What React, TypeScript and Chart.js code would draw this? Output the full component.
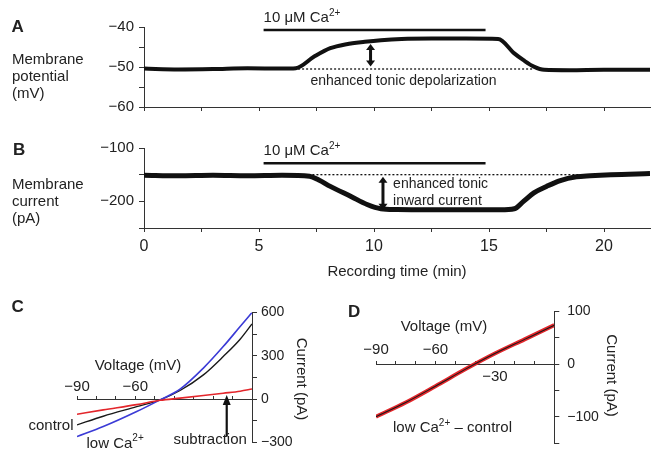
import React, { useEffect, useRef } from "react";
import { Chart, registerables } from "chart.js";

Chart.register(...registerables);

const W = 651;
const H = 452;
const FONT = "'Liberation Sans', Arial, Helvetica, sans-serif";
const INK = "#222222";
const AXIS = "#333333";
const TRACE = "#111111";
const BLUE = "#3b3bd6";
const RED = "#e3262b";

// ---------- Panel A: membrane potential (mV) vs recording time (min) ----------
const timeA = [0, 1.5, 3, 4.5, 6, 6.6, 7.4, 8.1, 8.8, 9.6, 10.3, 11.2, 12.5, 14, 15.4, 16.1, 16.5, 16.95, 17.4, 18.5, 20, 22];
const potentialA = [-50.4, -50.6, -50.5, -50.3, -50.4, -50.3, -47.4, -45.3, -44.3, -43.7, -43.3, -43.0, -42.9, -42.9, -43.0, -46.6, -48.3, -49.9, -50.7, -50.8, -50.7, -50.7];

// ---------- Panel B: membrane current (pA) vs recording time (min) ----------
const timeB = [0, 1.5, 3, 4.5, 6, 7.2, 7.6, 8.1, 9.0, 9.7, 10.3, 11, 12.5, 14, 15.5, 16.1, 16.5, 16.95, 17.5, 18.1, 18.8, 19.4, 20.3, 22];
const currentB = [-151, -152, -151, -152, -151, -153, -160, -172, -191, -206, -214, -215.5, -216, -216, -216, -214, -200, -184, -172, -161, -154, -152, -150, -148];

// 10 µM Ca2+ application bar, baselines and arrows (data units)
const caBarTime = [5.2, 14.85];
const caBarA = -40.75;
const caBarB = -128.7;
const caLabelA = -38.75;
const caLabelB = -113.1;
const baselineSpanA = [6.7, 16.9];
const baselineA = -50.5;
const baselineSpanB = [6.8, 22];
const baselineB = -150;
const arrowTimeA = 9.85;
const arrowA = [-44.25, -49.9];
const arrowTimeB = 10.39;
const arrowB = [-154, -216];

// ---------- Panel C: I–V curves ----------
const voltageC = [-90, -76.5, -59.3, -47.3, -37, -25, -14.8, -6.1, 0];
const controlC = [-178, -118, -52, -5, 60, 168, 295, 415, 521];
const lowCaC = [-259, -190, -86, -5, 69, 215, 364, 503, 600];
const subtractionC = [-104, -74, -38, -8, 7, 25, 41, 55, 70];
const subtractionArrowV = -13;
const subtractionArrowI = [-259, 28];

// ---------- Panel D: low Ca2+ – control ----------
const voltageD = [-90, -75, -60, -45, -30, -15, 0];
const diffD = [-100, -73, -42, -10, 20, 47, 74];

const fmt = (v: number) => (v < 0 ? "\u2212" + Math.abs(v) : String(v));
const series = (xs: number[], ys: number[]) => xs.map((x, i) => ({ x, y: ys[i] }));
const flat = (xs: number[], y: number) => xs.map((x) => ({ x, y }));

type Seg = { t: string; sup?: boolean };

function rich(
  ctx: CanvasRenderingContext2D,
  segs: Seg[],
  x: number,
  y: number,
  size: number,
  align: "left" | "center" | "right",
  weight = "normal"
) {
  const main = `${weight} ${size}px ${FONT}`;
  const small = `${weight} ${Math.round(size * 0.64)}px ${FONT}`;
  const widths = segs.map((s) => {
    ctx.font = s.sup ? small : main;
    return ctx.measureText(s.t).width;
  });
  const total = widths.reduce((p, q) => p + q, 0);
  let cx = align === "left" ? x : align === "center" ? x - total / 2 : x - total;
  ctx.save();
  ctx.fillStyle = INK;
  ctx.textAlign = "left";
  ctx.textBaseline = "alphabetic";
  segs.forEach((s, i) => {
    ctx.font = s.sup ? small : main;
    ctx.fillText(s.t, cx, s.sup ? y - size * 0.42 : y);
    cx += widths[i];
  });
  ctx.restore();
}

function vText(ctx: CanvasRenderingContext2D, s: string, x: number, y: number, size: number) {
  ctx.save();
  ctx.translate(x, y);
  ctx.rotate(Math.PI / 2);
  ctx.font = `${size}px ${FONT}`;
  ctx.fillStyle = INK;
  ctx.textAlign = "center";
  ctx.textBaseline = "middle";
  ctx.fillText(s, 0, 0);
  ctx.restore();
}

function head(ctx: CanvasRenderingContext2D, x: number, y: number, dir: number, w: number, h: number) {
  ctx.beginPath();
  ctx.moveTo(x, y);
  ctx.lineTo(x - w / 2, y - dir * h);
  ctx.lineTo(x + w / 2, y - dir * h);
  ctx.closePath();
  ctx.fill();
}

function dblArrow(ctx: CanvasRenderingContext2D, x: number, yTop: number, yBot: number) {
  const hw = 9;
  const hh = 6;
  ctx.save();
  ctx.strokeStyle = TRACE;
  ctx.fillStyle = TRACE;
  ctx.lineWidth = 3;
  ctx.beginPath();
  ctx.moveTo(x, yTop + hh - 1);
  ctx.lineTo(x, yBot - hh + 1);
  ctx.stroke();
  head(ctx, x, yTop, -1, hw, hh);
  head(ctx, x, yBot, 1, hw, hh);
  ctx.restore();
}

function upArrow(ctx: CanvasRenderingContext2D, x: number, yTip: number, yBase: number) {
  ctx.save();
  ctx.strokeStyle = TRACE;
  ctx.fillStyle = TRACE;
  ctx.lineWidth = 2.2;
  ctx.beginPath();
  ctx.moveTo(x, yBase);
  ctx.lineTo(x, yTip + 8);
  ctx.stroke();
  head(ctx, x, yTip, -1, 8, 10);
  ctx.restore();
}

function sideLabel(ctx: CanvasRenderingContext2D, lines: string[], x: number, y0: number, step: number) {
  lines.forEach((l, i) => rich(ctx, [{ t: l }], x, y0 + i * step, 15, "left"));
}

const fixH = (h: number) => (s: any) => {
  s.height = h;
  s.paddingLeft = 0;
  s.paddingRight = 0;
};
const fixW = (w: number) => (s: any) => {
  s.width = w;
  s.paddingTop = 0;
  s.paddingBottom = 0;
};

function baseOptions(pad: any, scales: any) {
  return {
    animation: false,
    responsive: false,
    maintainAspectRatio: false,
    devicePixelRatio: 1,
    events: [],
    layout: { padding: pad },
    plugins: { legend: { display: false }, tooltip: { enabled: false }, title: { display: false } },
    elements: { point: { radius: 0 }, line: { borderJoinStyle: "round", borderCapStyle: "butt" } },
    scales,
  };
}

function timeAxis(showLabels: boolean, height: number) {
  return {
    type: "linear",
    position: "bottom",
    min: 0,
    max: 22,
    afterFit: fixH(height),
    border: { color: AXIS, width: 1 },
    grid: { drawOnChartArea: false, drawTicks: true, tickLength: 4, tickColor: AXIS, tickWidth: 1 },
    ticks: {
      stepSize: 2.5,
      includeBounds: false,
      autoSkip: false,
      maxRotation: 0,
      padding: 5,
      color: INK,
      font: { family: FONT, size: 16 },
      callback: (v: number) => (showLabels && v % 5 === 0 ? String(v) : ""),
    },
  };
}

function leftAxis(min: number, max: number, step: number, labelEvery: number, width: number) {
  return {
    type: "linear",
    position: "left",
    min,
    max,
    afterFit: fixW(width),
    border: { color: AXIS, width: 1 },
    grid: { drawOnChartArea: false, drawTicks: true, tickLength: 5, tickColor: AXIS },
    ticks: {
      stepSize: step,
      autoSkip: false,
      padding: 5,
      color: INK,
      font: { family: FONT, size: 15 },
      callback: (v: number) => (v % labelEvery === 0 ? fmt(v) : ""),
    },
  };
}

function voltageAxis(labels: number[], pad: number) {
  return {
    type: "linear",
    position: { y: 0 },
    min: -90,
    max: 0,
    border: { color: AXIS, width: 1 },
    grid: { drawOnChartArea: false, drawTicks: true, tickLength: -4, tickColor: AXIS },
    ticks: {
      stepSize: 10,
      autoSkip: false,
      maxRotation: 0,
      padding: pad,
      color: INK,
      font: { family: FONT, size: 15 },
      callback: (v: number) => (labels.indexOf(v) >= 0 ? fmt(v) : ""),
    },
  };
}

function rightAxis(min: number, max: number, step: number, labels: number[], pad: number, width: number) {
  return {
    type: "linear",
    position: "right",
    min,
    max,
    afterFit: fixW(width),
    border: { color: AXIS, width: 1 },
    grid: { drawOnChartArea: false, drawTicks: true, tickLength: 5, tickColor: AXIS },
    ticks: {
      stepSize: step,
      autoSkip: false,
      padding: pad,
      color: INK,
      font: { family: FONT, size: 14 },
      callback: (v: number) => (labels.indexOf(v) >= 0 ? fmt(v) : ""),
    },
  };
}

function configA(): any {
  return {
    type: "line",
    data: {
      datasets: [
        { data: series(timeA, potentialA), borderColor: TRACE, borderWidth: 4, pointRadius: 0, cubicInterpolationMode: "monotone" },
        { data: flat(caBarTime, caBarA), borderColor: TRACE, borderWidth: 2.5, pointRadius: 0 },
        { data: flat(baselineSpanA, baselineA), borderColor: TRACE, borderWidth: 1.3, borderDash: [2, 2], pointRadius: 0 },
      ],
    },
    options: baseOptions({ left: 0, right: 1, top: 27, bottom: H - 107 }, {
      x: timeAxis(false, 0),
      y: leftAxis(-60, -40, 5, 10, 144),
    }),
    plugins: [
      {
        id: "annoA",
        afterDraw(chart: any) {
          const { ctx } = chart;
          const x = chart.scales.x;
          const y = chart.scales.y;
          rich(ctx, [{ t: "A" }], 11.5, 31.5, 17, "left", "bold");
          sideLabel(ctx, ["Membrane", "potential", "(mV)"], 12, 63.5, 17);
          rich(ctx, [{ t: "10 \u03bcM Ca" }, { t: "2+", sup: true }], x.getPixelForValue(caBarTime[0]), y.getPixelForValue(caLabelA), 15, "left");
          dblArrow(ctx, x.getPixelForValue(arrowTimeA), y.getPixelForValue(arrowA[0]), y.getPixelForValue(arrowA[1]));
          rich(ctx, [{ t: "enhanced tonic depolarization" }], x.getPixelForValue(11.28), y.getPixelForValue(-54.4), 14, "center");
        },
      },
    ],
  };
}

function configB(): any {
  return {
    type: "line",
    data: {
      datasets: [
        { data: series(timeB, currentB), borderColor: TRACE, borderWidth: 5, pointRadius: 0, cubicInterpolationMode: "monotone" },
        { data: flat(caBarTime, caBarB), borderColor: TRACE, borderWidth: 2.5, pointRadius: 0 },
        { data: flat(baselineSpanB, baselineB), borderColor: TRACE, borderWidth: 1.3, borderDash: [2, 2], pointRadius: 0 },
      ],
    },
    options: baseOptions({ left: 0, right: 1, top: 148, bottom: H - 228 - 36 }, {
      x: timeAxis(true, 36),
      y: leftAxis(-250, -100, 50, 100, 144),
    }),
    plugins: [
      {
        id: "annoB",
        afterDraw(chart: any) {
          const { ctx } = chart;
          const x = chart.scales.x;
          const y = chart.scales.y;
          rich(ctx, [{ t: "B" }], 13, 155, 17, "left", "bold");
          sideLabel(ctx, ["Membrane", "current", "(pA)"], 12, 188.5, 17.3);
          rich(ctx, [{ t: "10 \u03bcM Ca" }, { t: "2+", sup: true }], x.getPixelForValue(caBarTime[0]), y.getPixelForValue(caLabelB), 15, "left");
          dblArrow(ctx, x.getPixelForValue(arrowTimeB), y.getPixelForValue(arrowB[0]), y.getPixelForValue(arrowB[1]));
          rich(ctx, [{ t: "enhanced tonic" }], x.getPixelForValue(10.83), y.getPixelForValue(-175.6), 14, "left");
          rich(ctx, [{ t: "inward current" }], x.getPixelForValue(10.83), y.getPixelForValue(-206.9), 14, "left");
          rich(ctx, [{ t: "Recording time (min)" }], (x.left + x.right) / 2, 276, 15, "center");
        },
      },
    ],
  };
}

function configC(): any {
  return {
    type: "line",
    data: {
      datasets: [
        { data: series(voltageC, subtractionC), borderColor: RED, borderWidth: 1.6, pointRadius: 0, cubicInterpolationMode: "monotone" },
        { data: series(voltageC, lowCaC), borderColor: BLUE, borderWidth: 1.6, pointRadius: 0, cubicInterpolationMode: "monotone" },
        { data: series(voltageC, controlC), borderColor: "#1a1a1a", borderWidth: 1.4, pointRadius: 0, cubicInterpolationMode: "monotone" },
      ],
    },
    options: baseOptions({ left: 77, right: W - 252 - 45, top: 312.5, bottom: H - 442.5 }, {
      x: voltageAxis([-90, -60], -17.5),
      y: rightAxis(-300, 600, 150, [-300, 0, 300, 600], 4, 45),
    }),
    plugins: [
      {
        id: "annoC",
        afterDraw(chart: any) {
          const { ctx } = chart;
          const x = chart.scales.x;
          const y = chart.scales.y;
          rich(ctx, [{ t: "C" }], 11.5, 312, 17, "left", "bold");
          rich(ctx, [{ t: "Voltage (mV)" }], 138, 370, 15, "center");
          vText(ctx, "Current (pA)", 301.5, 379, 15);
          rich(ctx, [{ t: "control" }], 73.5, 430, 15, "right");
          rich(ctx, [{ t: "low Ca" }, { t: "2+", sup: true }], 86.5, 447.5, 15, "left");
          rich(ctx, [{ t: "subtraction" }], 173.5, 444, 15, "left");
          upArrow(ctx, x.getPixelForValue(subtractionArrowV), y.getPixelForValue(subtractionArrowI[1]), y.getPixelForValue(subtractionArrowI[0]));
        },
      },
    ],
  };
}

function configD(): any {
  return {
    type: "line",
    data: {
      datasets: [
        { data: series(voltageD, diffD), borderColor: "#1a1a1a", borderWidth: 1.1, pointRadius: 0, cubicInterpolationMode: "monotone" },
        { data: series(voltageD, diffD), borderColor: RED, borderWidth: 4, pointRadius: 0, cubicInterpolationMode: "monotone" },
      ],
    },
    options: baseOptions({ left: 376, right: W - 554.3 - 50, top: 311.5, bottom: H - 443 }, {
      x: voltageAxis([-90, -60], -19),
      x2: {
        type: "linear",
        axis: "x",
        position: { y: 0 },
        min: -90,
        max: 0,
        border: { display: false },
        grid: { display: false, drawTicks: false },
        ticks: {
          stepSize: 10,
          autoSkip: false,
          maxRotation: 0,
          padding: 4,
          color: INK,
          font: { family: FONT, size: 15 },
          callback: (v: number) => (v === -30 ? fmt(v) : ""),
        },
      },
      y: rightAxis(-150, 100, 50, [-100, 0, 100], 8, 50),
    }),
    plugins: [
      {
        id: "annoD",
        afterDraw(chart: any) {
          const { ctx } = chart;
          rich(ctx, [{ t: "D" }], 348, 317, 17, "left", "bold");
          rich(ctx, [{ t: "Voltage (mV)" }], 444, 331, 15, "center");
          vText(ctx, "Current (pA)", 611.5, 375.5, 15);
          rich(ctx, [{ t: "low Ca" }, { t: "2+", sup: true }, { t: " \u2013 control" }], 452.5, 432, 15, "center");
        },
      },
    ],
  };
}

export default function App() {
  const a = useRef<HTMLCanvasElement>(null);
  const b = useRef<HTMLCanvasElement>(null);
  const c = useRef<HTMLCanvasElement>(null);
  const d = useRef<HTMLCanvasElement>(null);

  useEffect(() => {
    Chart.defaults.font.family = FONT;
    const charts = [
      new Chart(a.current as HTMLCanvasElement, configA()),
      new Chart(b.current as HTMLCanvasElement, configB()),
      new Chart(c.current as HTMLCanvasElement, configC()),
      new Chart(d.current as HTMLCanvasElement, configD()),
    ];
    return () => charts.forEach((ch) => ch.destroy());
  }, []);

  const cv: React.CSSProperties = { position: "absolute", left: 0, top: 0, width: W, height: H };
  return (
    <div style={{ position: "fixed", left: 0, top: 0, width: W, height: H, background: "#ffffff", overflow: "hidden" }}>
      <canvas ref={a} width={W} height={H} style={cv} />
      <canvas ref={b} width={W} height={H} style={cv} />
      <canvas ref={c} width={W} height={H} style={cv} />
      <canvas ref={d} width={W} height={H} style={cv} />
    </div>
  );
}
